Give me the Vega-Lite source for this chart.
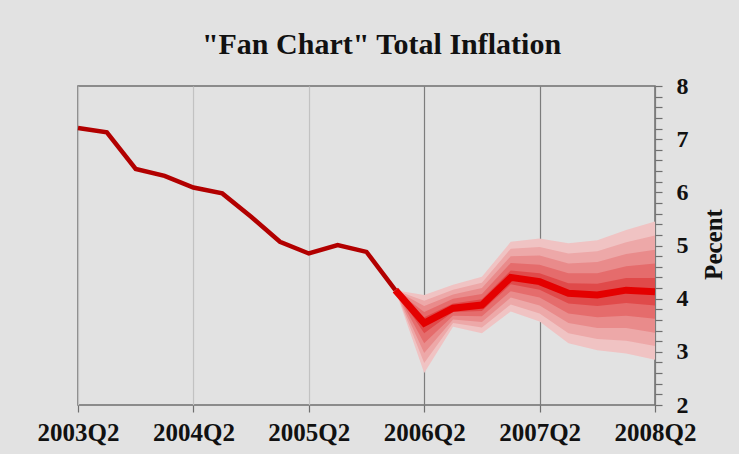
{
  "$schema": "https://vega.github.io/schema/vega-lite/v6.json",
  "autosize": {"type": "none"},
  "width": 577,
  "height": 319,
  "padding": {"left": 78, "top": 86, "right": 84, "bottom": 49},
  "background": "#e2e2e2",
  "config": {
    "font": "Liberation Serif",
    "view": {"stroke": "#6f6f6f", "strokeWidth": 1.5},
    "axis": {"domain": false, "labelColor": "#111111", "titleColor": "#111111"},
    "axisY": {
      "labelFont": "Liberation Serif",
      "labelFontSize": 24,
      "labelFontWeight": "bold",
      "labelPadding": 14,
      "labelOverlap": false,
      "labelBound": false,
      "labelFlush": false,
      "tickColor": "#6f6f6f",
      "tickWidth": 1.2,
      "tickSize": 7,
      "grid": false
    }
  },
  "title": {
    "text": "\"Fan Chart\" Total Inflation",
    "font": "Liberation Serif",
    "fontSize": 30,
    "fontWeight": "bold",
    "color": "#111111",
    "anchor": "middle",
    "dx": 15,
    "offset": 14
  },
  "datasets": {
    "history": [
      {"q": "2003Q2", "v": 7.21}, {"q": "2003Q3", "v": 7.13}, {"q": "2003Q4", "v": 6.44},
      {"q": "2004Q1", "v": 6.31}, {"q": "2004Q2", "v": 6.09}, {"q": "2004Q3", "v": 5.98},
      {"q": "2004Q4", "v": 5.54}, {"q": "2005Q1", "v": 5.07}, {"q": "2005Q2", "v": 4.85},
      {"q": "2005Q3", "v": 5.01}, {"q": "2005Q4", "v": 4.88}, {"q": "2006Q1", "v": 4.16}
    ],
    "median": [
      {"q": "2006Q1", "v": 4.16}, {"q": "2006Q2", "v": 3.54}, {"q": "2006Q3", "v": 3.82},
      {"q": "2006Q4", "v": 3.88}, {"q": "2007Q1", "v": 4.40}, {"q": "2007Q2", "v": 4.32},
      {"q": "2007Q3", "v": 4.10}, {"q": "2007Q4", "v": 4.07}, {"q": "2008Q1", "v": 4.16},
      {"q": "2008Q2", "v": 4.13}
    ],
    "fan": [
      {"q": "2006Q1", "b": 1, "lo": 4.16, "hi": 4.16},
      {"q": "2006Q2", "b": 1, "lo": 2.60, "hi": 4.07},
      {"q": "2006Q3", "b": 1, "lo": 3.47, "hi": 4.26},
      {"q": "2006Q4", "b": 1, "lo": 3.35, "hi": 4.41},
      {"q": "2007Q1", "b": 1, "lo": 3.76, "hi": 5.07},
      {"q": "2007Q2", "b": 1, "lo": 3.57, "hi": 5.13},
      {"q": "2007Q3", "b": 1, "lo": 3.16, "hi": 5.04},
      {"q": "2007Q4", "b": 1, "lo": 3.03, "hi": 5.10},
      {"q": "2008Q1", "b": 1, "lo": 2.97, "hi": 5.29},
      {"q": "2008Q2", "b": 1, "lo": 2.85, "hi": 5.45},

      {"q": "2006Q1", "b": 2, "lo": 4.16, "hi": 4.16},
      {"q": "2006Q2", "b": 2, "lo": 2.79, "hi": 3.96},
      {"q": "2006Q3", "b": 2, "lo": 3.54, "hi": 4.17},
      {"q": "2006Q4", "b": 2, "lo": 3.46, "hi": 4.30},
      {"q": "2007Q1", "b": 2, "lo": 3.89, "hi": 4.94},
      {"q": "2007Q2", "b": 2, "lo": 3.72, "hi": 4.97},
      {"q": "2007Q3", "b": 2, "lo": 3.35, "hi": 4.85},
      {"q": "2007Q4", "b": 2, "lo": 3.24, "hi": 4.89},
      {"q": "2008Q1", "b": 2, "lo": 3.21, "hi": 5.06},
      {"q": "2008Q2", "b": 2, "lo": 3.11, "hi": 5.19},

      {"q": "2006Q1", "b": 3, "lo": 4.16, "hi": 4.16},
      {"q": "2006Q2", "b": 3, "lo": 2.98, "hi": 3.86},
      {"q": "2006Q3", "b": 3, "lo": 3.61, "hi": 4.08},
      {"q": "2006Q4", "b": 3, "lo": 3.56, "hi": 4.20},
      {"q": "2007Q1", "b": 3, "lo": 4.02, "hi": 4.80},
      {"q": "2007Q2", "b": 3, "lo": 3.87, "hi": 4.81},
      {"q": "2007Q3", "b": 3, "lo": 3.54, "hi": 4.66},
      {"q": "2007Q4", "b": 3, "lo": 3.45, "hi": 4.69},
      {"q": "2008Q1", "b": 3, "lo": 3.45, "hi": 4.84},
      {"q": "2008Q2", "b": 3, "lo": 3.36, "hi": 4.92},

      {"q": "2006Q1", "b": 4, "lo": 4.16, "hi": 4.16},
      {"q": "2006Q2", "b": 4, "lo": 3.16, "hi": 3.75},
      {"q": "2006Q3", "b": 4, "lo": 3.68, "hi": 4.00},
      {"q": "2006Q4", "b": 4, "lo": 3.67, "hi": 4.09},
      {"q": "2007Q1", "b": 4, "lo": 4.14, "hi": 4.67},
      {"q": "2007Q2", "b": 4, "lo": 4.02, "hi": 4.64},
      {"q": "2007Q3", "b": 4, "lo": 3.72, "hi": 4.48},
      {"q": "2007Q4", "b": 4, "lo": 3.65, "hi": 4.48},
      {"q": "2008Q1", "b": 4, "lo": 3.68, "hi": 4.61},
      {"q": "2008Q2", "b": 4, "lo": 3.62, "hi": 4.66},

      {"q": "2006Q1", "b": 5, "lo": 4.16, "hi": 4.16},
      {"q": "2006Q2", "b": 5, "lo": 3.35, "hi": 3.65},
      {"q": "2006Q3", "b": 5, "lo": 3.75, "hi": 3.91},
      {"q": "2006Q4", "b": 5, "lo": 3.77, "hi": 3.99},
      {"q": "2007Q1", "b": 5, "lo": 4.27, "hi": 4.53},
      {"q": "2007Q2", "b": 5, "lo": 4.17, "hi": 4.48},
      {"q": "2007Q3", "b": 5, "lo": 3.91, "hi": 4.29},
      {"q": "2007Q4", "b": 5, "lo": 3.86, "hi": 4.28},
      {"q": "2008Q1", "b": 5, "lo": 3.92, "hi": 4.39},
      {"q": "2008Q2", "b": 5, "lo": 3.87, "hi": 4.39}
    ]
  },
  "encoding": {
    "x": {
      "field": "q",
      "type": "ordinal",
      "scale": {
        "type": "point",
        "padding": 0,
        "domain": ["2003Q2", "2003Q3", "2003Q4", "2004Q1", "2004Q2", "2004Q3", "2004Q4",
                   "2005Q1", "2005Q2", "2005Q3", "2005Q4", "2006Q1", "2006Q2", "2006Q3",
                   "2006Q4", "2007Q1", "2007Q2", "2007Q3", "2007Q4", "2008Q1", "2008Q2"]
      },
      "axis": {
        "title": null,
        "values": ["2003Q2", "2004Q2", "2005Q2", "2006Q2", "2007Q2", "2008Q2"],
        "labelAngle": 0,
        "labelFont": "Liberation Serif",
        "labelFontSize": 25,
        "labelFontWeight": "bold",
        "labelPadding": 8,
        "labelBaseline": "top",
        "labelFlush": false,
        "labelOverlap": false,
        "tickSize": 7,
        "tickColor": "#6f6f6f",
        "tickWidth": 1.2,
        "grid": true,
        "gridWidth": 1.2,
        "gridColor": {
          "condition": {"test": "datum.value >= '2006Q2'", "value": "#7c7c7c"},
          "value": "#c2c2c2"
        }
      }
    }
  },
  "layer": [
    {
      "data": {"name": "fan"},
      "mark": {"type": "area", "interpolate": "linear"},
      "encoding": {
        "y": {"field": "lo", "type": "quantitative"},
        "y2": {"field": "hi"},
        "color": {
          "field": "b",
          "type": "ordinal",
          "legend": null,
          "scale": {
            "domain": [1, 2, 3, 4, 5],
            "range": ["#f0c3c3", "#eda8a8", "#e98b8b", "#e56c6c", "#e04a4a"]
          }
        }
      }
    },
    {
      "data": {"name": "history"},
      "mark": {"type": "line", "color": "#b20000", "strokeWidth": 4.5, "strokeJoin": "miter"},
      "encoding": {
        "y": {"field": "v", "type": "quantitative"}
      }
    },
    {
      "data": {"name": "median"},
      "mark": {"type": "line", "color": "#e40000", "strokeWidth": 7, "strokeJoin": "miter"},
      "encoding": {
        "y": {
          "field": "v",
          "type": "quantitative",
          "scale": {"domain": [2, 8], "nice": false, "zero": false},
          "axis": {
            "orient": "right",
            "title": "Pecent",
            "titleFont": "Liberation Serif",
            "titleFontSize": 25,
            "titleFontWeight": "bold",
            "titleAngle": 270,
            "titleAlign": "center",
            "titleBaseline": "alphabetic",
            "titleX": 66,
            "titleY": 158,
            "tickCount": 31,
            "labelPadding": 14,
            "values": [2, 2.2, 2.4, 2.6, 2.8, 3, 3.2, 3.4, 3.6, 3.8, 4, 4.2, 4.4, 4.6, 4.8, 5,
                       5.2, 5.4, 5.6, 5.8, 6, 6.2, 6.4, 6.6, 6.8, 7, 7.2, 7.4, 7.6, 7.8, 8],
            "labelExpr": "abs(datum.value - round(datum.value)) < 0.01 ? format(datum.value, 'd') : ''"
          }
        }
      }
    }
  ]
}
